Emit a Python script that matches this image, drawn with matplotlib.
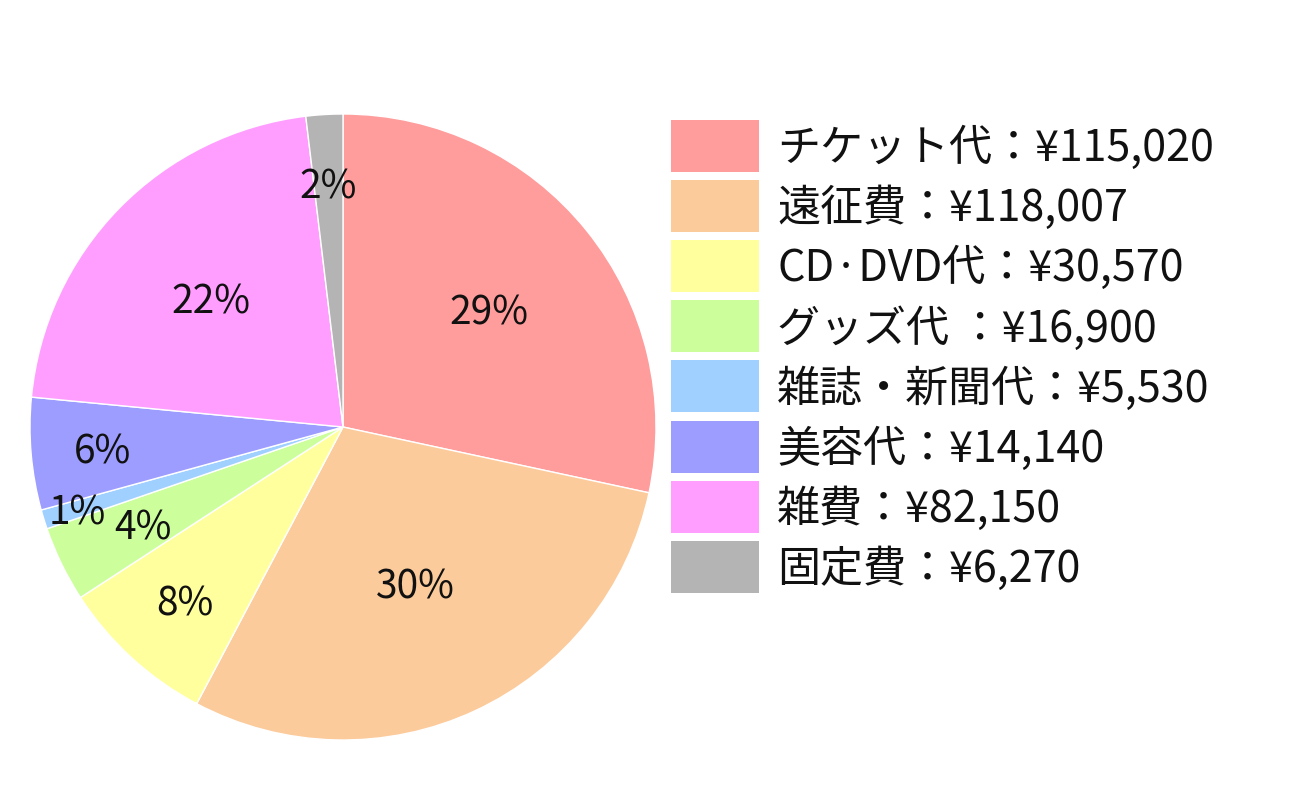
import numpy as np
import matplotlib
matplotlib.use("Agg")
import matplotlib.pyplot as plt
from matplotlib.patches import Rectangle

plt.rcParams['font.family'] = ['Noto Sans CJK JP', 'DejaVu Sans']

# Data
categories = ["チケット代", "遠征費", "CD·DVD代", "グッズ代 ", "雑誌・新聞代", "美容代", "雑費", "固定費"]
amounts = ["¥115,020", "¥118,007", "¥30,570", "¥16,900", "¥5,530", "¥14,140", "¥82,150", "¥6,270"]
shares = [28.4, 29.4, 8.1, 3.9, 1.0, 5.8, 21.6, 1.9]   # slice sizes (%)
pct_labels = ["29%", "30%", "8%", "4%", "1%", "6%", "22%", "2%"]
colors = ["#FF9C9C", "#FCCB9C", "#FFFF9E", "#CCFF9C", "#9FD0FF", "#9D9DFF", "#FF9EFF", "#B4B4B4"]
label_dist = [0.60, 0.55, 0.75, 0.71, 0.89, 0.77, 0.59, 0.78]

W, H = 1299, 807
fig = plt.figure(figsize=(W / 100, H / 100), dpi=100)

cx, cy, R = 343, 427, 313
ax = fig.add_axes([(cx - R) / W, (H - cy - R) / H, 2 * R / W, 2 * R / H])
wedges, _ = ax.pie(shares, colors=colors, startangle=90, counterclock=False,
                   radius=1.0, wedgeprops=dict(edgecolor="white", linewidth=1.0))
ax.set_xlim(-1, 1)
ax.set_ylim(-1, 1)
ax.set_aspect("equal")
ax.axis("off")

for w, lab, d in zip(wedges, pct_labels, label_dist):
    ang = np.deg2rad((w.theta1 + w.theta2) / 2)
    ax.text(d * np.cos(ang), d * np.sin(ang), lab, ha="center", va="center_baseline",
            fontsize=28, color="#111111")

# Legend drawn manually
x0, y_first, step = 671, 146, 60.1
bw, bh = 88, 52
for i, (cat, amt, col) in enumerate(zip(categories, amounts, colors)):
    yc = y_first + i * step
    fig.patches.append(Rectangle(((x0) / W, (H - yc - bh / 2) / H), bw / W, bh / H,
                                 transform=fig.transFigure, facecolor=col,
                                 edgecolor="none"))
    fig.text((x0 + bw + 18) / W, (H - yc + 2) / H, f"{cat}：{amt}", ha="left",
             va="center_baseline", fontsize=31, color="#111111")

fig.savefig("out.png", dpi=100, facecolor="white")
